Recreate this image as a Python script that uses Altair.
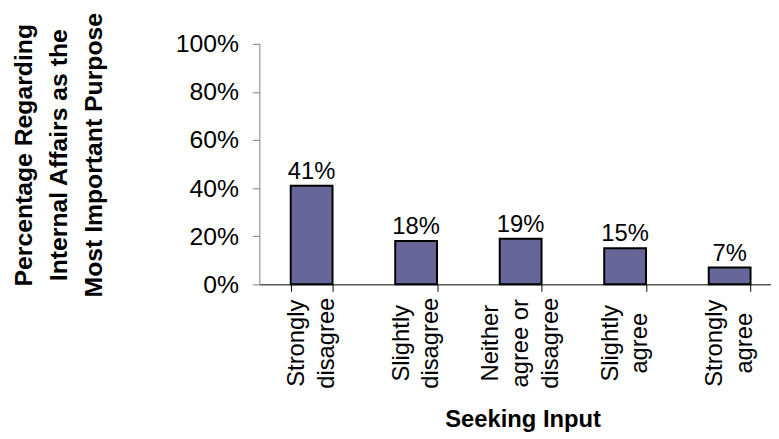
import altair as alt
import pandas as pd

categories = ["Strongly|disagree", "Slightly|disagree", "Neither|agree or|disagree", "Slightly|agree", "Strongly|agree"]
values = [0.41, 0.18, 0.19, 0.15, 0.07]
value_labels = ["41%", "18%", "19%", "15%", "7%"]
y_ticks = [0, 0.2, 0.4, 0.6, 0.8, 1.0]
y_title = ["Percentage Regarding", "Internal Affairs as the", "Most Important Purpose"]
x_title = "Seeking Input"

df = pd.DataFrame({"cat": categories, "val": values, "lab": value_labels})
FONT = "Liberation Sans"

x = alt.X(
    "cat:N", sort=categories,
    scale=alt.Scale(paddingInner=0.6, paddingOuter=0.3),
    axis=alt.Axis(
        title=x_title, labelExpr="split(datum.label, '|')", labelAngle=270,
        labelAlign="center", labelBaseline="middle", labelFont=FONT, labelFontSize=24,
        labelLineHeight=30,
        labelOffset={"condition": {"test": "length(split(datum.value, '|')) == 3", "value": -30}, "value": -15},
        labelPadding=52, labelColor="black", tickBand="extent",
        tickSize=7, tickColor="black", domainColor="black", titleFont=FONT,
        titleFontSize=24, titleFontWeight="bold", titleX=266, titleY=144,
        titleBaseline="alphabetic", titleAlign="center", titleColor="black", grid=False,
    ),
)
y = alt.Y(
    "val:Q", scale=alt.Scale(domain=[0, 1]),
    axis=alt.Axis(
        title=y_title, values=y_ticks, format=".0%", labelFont=FONT, labelFontSize=25,
        labelColor="black", labelPadding=14, tickSize=7, tickColor="#808080",
        domainColor="#808080", grid=False, titleFont=FONT, titleFontSize=25,
        titleFontWeight="bold", titleLineHeight=35, titleAngle=270, titleAlign="center",
        titleBaseline="middle", titleX=-238, titleY=112, titleColor="black",
    ),
)

bars = alt.Chart(df).mark_bar(color="#666699", stroke="black", strokeWidth=2).encode(x=x, y=y)
text = alt.Chart(df).mark_text(dy=-7, baseline="alphabetic", fontSize=24, font=FONT, color="black").encode(
    x=alt.X("cat:N", sort=categories), y="val:Q", text="lab:N"
)

chart = (bars + text).properties(
    width=528, height=243,
    autosize=alt.AutoSizeParams(type="none"),
    padding={"left": 254, "top": 34, "right": -11, "bottom": 154},
).configure_view(stroke=None)

chart.save("out.html", embed_options={"renderer": "svg", "actions": False})
